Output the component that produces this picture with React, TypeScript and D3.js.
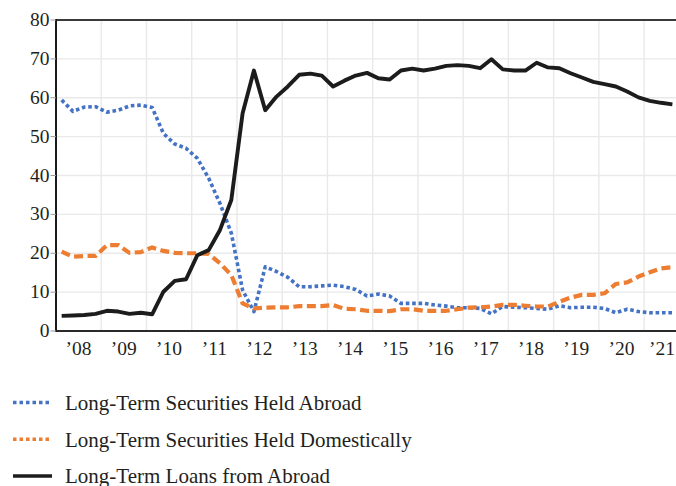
import React from "react";
import * as d3 from "d3";

const yearLabels = ["’08", "’09", "’10", "’11", "’12", "’13", "’14", "’15", "’16", "’17", "’18", "’19", "’20", "’21"];
const yTicks = [0, 10, 20, 30, 40, 50, 60, 70, 80];

// quarterly values, 2008Q1 .. 2021Q3
const securitiesAbroad = [59.4, 56.5, 57.6, 57.7, 56.3, 56.8, 57.9, 58.1, 57.5, 50.8, 48.1, 47.0, 44.4, 39.3, 32.8, 25.2, 10.5, 5.0, 16.5, 15.3, 13.8, 11.4, 11.4, 11.6, 11.8, 11.4, 10.7, 9.0, 9.5, 9.0, 7.1, 7.1, 7.1, 6.7, 6.4, 6.0, 6.0, 5.8, 4.4, 6.3, 6.1, 6.0, 5.8, 5.6, 6.5, 6.0, 6.1, 6.1, 5.8, 4.7, 5.6, 5.0, 4.7, 4.7, 4.7];
const securitiesDomestic = [20.4, 19.1, 19.3, 19.3, 22.1, 22.1, 20.1, 20.3, 21.5, 20.6, 20.1, 20.0, 20.0, 19.8, 17.4, 14.4, 7.1, 5.8, 6.0, 6.1, 6.1, 6.4, 6.4, 6.4, 6.7, 5.7, 5.6, 5.2, 5.2, 5.1, 5.6, 5.6, 5.2, 5.2, 5.2, 5.6, 6.0, 6.1, 6.3, 6.7, 6.7, 6.5, 6.3, 6.3, 7.5, 8.6, 9.3, 9.3, 9.7, 12.1, 12.5, 14.0, 15.1, 16.1, 16.4];
const loansAbroad = [3.9, 4.0, 4.1, 4.4, 5.2, 5.0, 4.4, 4.7, 4.3, 10.1, 12.9, 13.3, 19.5, 20.8, 26.0, 33.7, 56.0, 67.0, 56.8, 60.3, 62.9, 65.9, 66.2, 65.7, 62.9, 64.4, 65.7, 66.4, 65.0, 64.7, 67.0, 67.5, 67.0, 67.5, 68.2, 68.4, 68.2, 67.6, 69.9, 67.3, 67.0, 67.0, 69.0, 67.8, 67.6, 66.3, 65.2, 64.1, 63.5, 62.9, 61.6, 60.1, 59.2, 58.7, 58.3];

const seriesNames = [
  "Long-Term Securities Held Abroad",
  "Long-Term Securities Held Domestically",
  "Long-Term Loans from Abroad",
];

const W = 676;
const H = 486;
const left = 56;
const top = 20;
const bottom = 331;
const qWidth = 11.31;
const TEXT = "#231f20";
const FONT = '"Liberation Serif", monospace';

export default function App() {
  const nQuarters = yearLabels.length * 4;
  const x = d3.scaleLinear().domain([0, nQuarters]).range([left, left + nQuarters * qWidth]);
  const y = d3.scaleLinear().domain([0, 80]).range([bottom, top]);

  const line = d3
    .line<number>()
    .x((_, i) => x(i + 0.5))
    .y((d) => y(d));

  const series = [
    { name: seriesNames[0], data: securitiesAbroad, color: "#4472C4", width: 3.6, dash: "3.6 2.8", legendDash: "3.5 3" },
    { name: seriesNames[1], data: securitiesDomestic, color: "#ED7D31", width: 4.2, dash: "9 4.5", legendDash: "3.5 3" },
    { name: seriesNames[2], data: loansAbroad, color: "#1c1c1c", width: 3.9, dash: undefined, legendDash: undefined },
  ];

  const yearBoundaries = d3.range(1, yearLabels.length + 1).map((k) => x(k * 4));

  return (
    <svg width={W} height={H} style={{ position: "absolute", left: 0, top: 0 }}>
      {/* horizontal gridlines */}
      {yTicks.slice(1, -1).map((t) => (
        <line key={"hg" + t} x1={left} x2={W} y1={y(t)} y2={y(t)} stroke="#e9e9e9" strokeWidth={1.4} />
      ))}
      {/* vertical gridlines */}
      {yearBoundaries.map((bx, i) => (
        <line key={"vg" + i} x1={bx} x2={bx} y1={top} y2={bottom} stroke="#e9e9e9" strokeWidth={1.4} />
      ))}

      {/* series */}
      {series.map((s) => (
        <path
          key={s.name}
          d={line(s.data) || ""}
          fill="none"
          stroke={s.color}
          strokeWidth={s.width}
          strokeDasharray={s.dash}
          strokeLinejoin="round"
        />
      ))}

      {/* axes / frame */}
      <line x1={left} x2={W} y1={top} y2={top} stroke="#3a3a3a" strokeWidth={2} />
      <line x1={left} x2={W} y1={bottom} y2={bottom} stroke="#2a2a2a" strokeWidth={2} />
      <line x1={left} x2={left} y1={top - 1} y2={bottom + 1} stroke="#1a1a1a" strokeWidth={2} />

      {/* y ticks */}
      {yTicks.map((t) => (
        <line key={"ytl" + t} x1={left - 5.5} x2={left} y1={y(t)} y2={y(t)} stroke="#9a9a9a" strokeWidth={1} />
      ))}
      {yTicks.map((t) => (
        <text
          key={"yt" + t}
          x={49.5}
          y={y(t) + 6}
          textAnchor="end"
          fontSize={19.5}
          fill={TEXT}
          style={{ fontFamily: FONT }}
        >
          {t}
        </text>
      ))}

      {/* x labels */}
      {yearLabels.map((lab, i) => {
        const mid = x(i * 4 + 2);
        const cx = Math.min(mid, W - 14);
        return (
          <text
            key={"xl" + i}
            x={cx}
            y={355}
            textAnchor="middle"
            fontSize={19.5}
            fill={TEXT}
            style={{ fontFamily: FONT }}
          >
            {lab}
          </text>
        );
      })}

      {/* legend */}
      {series.map((s, i) => (
        <line
          key={"ll" + i}
          x1={13}
          x2={52}
          y1={402.5 + i * 36.7}
          y2={402.5 + i * 36.7}
          stroke={s.color}
          strokeWidth={3.5}
          strokeDasharray={s.legendDash}
        />
      ))}
      {series.map((s, i) => (
        <text
          key={"lt" + i}
          x={65}
          y={402.5 + i * 36.7 + 7.3}
          fontSize={21}
          fill={TEXT}
          style={{ fontFamily: FONT }}
        >
          {s.name}
        </text>
      ))}
    </svg>
  );
}
